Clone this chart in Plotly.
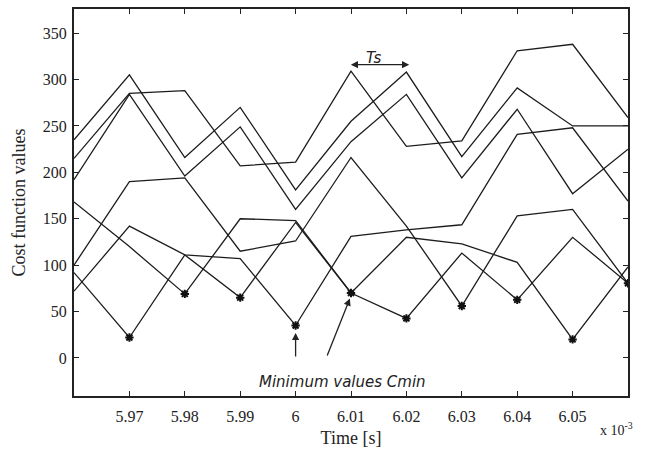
import numpy as np
import plotly.graph_objects as go

# time in units of 1e-3 s
time_ms = [5.96, 5.97, 5.98, 5.99, 6.00, 6.01, 6.02, 6.03, 6.04, 6.05, 6.06]

series_a = [235, 305, 216, 270, 181, 255, 308, 217, 291, 250, 250]
series_b = [215, 285, 288, 207, 211, 309, 228, 234, 331, 338, 259]
series_c = [192, 284, 196, 249, 160, 233, 284, 194, 268, 177, 225]
series_d = [168, 120, 69, 150, 148, 70, 130, 123, 103, 20, 98]
series_e = [100, 190, 194, 115, 126, 216, 142, 56, 153, 160, 80.5]
series_f = [92, 22, 111, 65, 146, 70, 42.6, 113, 62.6, 130, 80.5]
series_g = [72, 142, 111, 107, 35, 131, 138, 143.5, 241, 248, 169]

x_tick_vals = [5.97, 5.98, 5.99, 6.00, 6.01, 6.02, 6.03, 6.04, 6.05]
x_tick_text = ["5.97", "5.98", "5.99", "6", "6.01", "6.02", "6.03", "6.04", "6.05"]
y_tick_vals = [0, 50, 100, 150, 200, 250, 300, 350]

all_series = [series_a, series_b, series_c, series_d, series_e, series_f, series_g]

fig = go.Figure()
for s in all_series:
    fig.add_trace(go.Scatter(x=time_ms, y=s, mode="lines",
                             line=dict(color="#1c1c1c", width=1.3),
                             showlegend=False, hoverinfo="skip"))

mins = np.min(np.array(all_series), axis=0)
fig.add_trace(go.Scatter(x=time_ms[1:], y=mins[1:], mode="markers",
                         marker=dict(symbol="asterisk-open", size=7, color="#111",
                                     line=dict(color="#111", width=2)),
                         showlegend=False, hoverinfo="skip"))

serif = "Liberation Serif"
sans = "DejaVu Sans"

fig.update_layout(
    width=651, height=452,
    margin=dict(l=74, r=23, t=7, b=56),
    plot_bgcolor="white", paper_bgcolor="white",
    xaxis=dict(range=[5.96, 6.06], tickvals=x_tick_vals, ticktext=x_tick_text,
               ticks="inside", ticklen=5, tickcolor="#222", tickwidth=1,
               showline=True, linecolor="#222", linewidth=2, mirror="ticks",
               showgrid=False, zeroline=False,
               tickfont=dict(family=serif, size=16, color="#222"),
               ticklabelstandoff=5,
               title=dict(text="Time [s]", font=dict(family=serif, size=18, color="#222"),
                          standoff=7)),
    yaxis=dict(range=[-41, 376], tickvals=y_tick_vals,
               ticks="inside", ticklen=5, tickcolor="#222", tickwidth=1,
               showline=True, linecolor="#222", linewidth=2, mirror="ticks",
               showgrid=False, zeroline=False,
               tickfont=dict(family=serif, size=16, color="#222"),
               ticklabelstandoff=2,
               title=dict(text="Cost function values", font=dict(family=serif, size=18, color="#222"),
                          standoff=12)),
)

# Ts double arrow
fig.add_annotation(x=6.0205, y=316, ax=6.0097, ay=316, xref="x", yref="y",
                   axref="x", ayref="y", text="", showarrow=True,
                   arrowhead=2, arrowside="end+start", arrowsize=1.1,
                   arrowwidth=1.3, arrowcolor="#222", standoff=0, startstandoff=0)
fig.add_annotation(x=6.014, y=323, text="<i>Ts</i>", showarrow=False,
                   font=dict(family=sans, size=15, color="#222"))

# Minimum values arrows
fig.add_annotation(x=6.00, y=27, ax=6.00, ay=0, xref="x", yref="y",
                   axref="x", ayref="y", text="", showarrow=True,
                   arrowhead=2, arrowsize=1.1, arrowwidth=1.3, arrowcolor="#222",
                   standoff=0)
fig.add_annotation(x=6.0098, y=64, ax=6.0056, ay=1, xref="x", yref="y",
                   axref="x", ayref="y", text="", showarrow=True,
                   arrowhead=2, arrowsize=1.1, arrowwidth=1.3, arrowcolor="#222",
                   standoff=0)
fig.add_annotation(x=6.0085, y=-26, text="<i>Minimum values Cmin</i>", showarrow=False,
                   font=dict(family=sans, size=15, color="#222"))

# exponent label
fig.add_annotation(xref="paper", yref="paper", x=0.98, y=-0.057, xanchor="center", yanchor="top",
                   text="x 10<sup>-3</sup>", showarrow=False,
                   font=dict(family=serif, size=14, color="#222"))

fig.write_html("out.html")
